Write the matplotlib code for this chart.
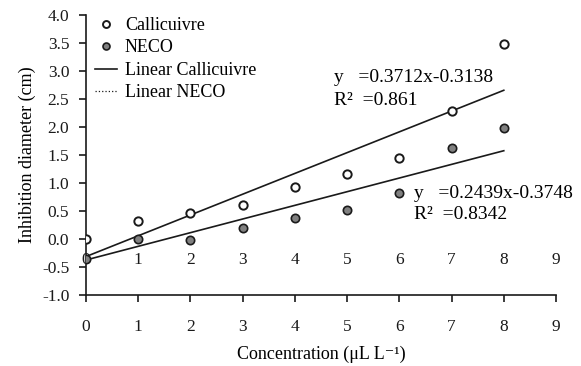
import matplotlib
matplotlib.use('Agg')
import matplotlib.pyplot as plt
from matplotlib.lines import Line2D

# Data
concentration = [0, 1, 2, 3, 4, 5, 6, 7, 8]
callicuivre = [0.0, 0.32, 0.46, 0.60, 0.92, 1.16, 1.45, 2.28, 3.48]
neco = [-0.35, 0.0, -0.01, 0.19, 0.37, 0.51, 0.82, 1.63, 1.99]

# Trendline coefficients as printed in the chart
calli_fit = (0.3712, -0.3138, 0.861)
neco_fit = (0.2439, -0.3748, 0.8342)

x_ticks = [0, 1, 2, 3, 4, 5, 6, 7, 8, 9]
y_ticks = [-1.0, -0.5, 0.0, 0.5, 1.0, 1.5, 2.0, 2.5, 3.0, 3.5, 4.0]

plt.rcParams['font.family'] = ['Liberation Serif', 'DejaVu Serif']
plt.rcParams['axes.unicode_minus'] = False

TICK_FS = 12.5
TEXT_FS = 13
EQ_FS = 14

fig = plt.figure(figsize=(5.81, 3.66), dpi=100)
ax = fig.add_axes([0.148, 0.194, 0.809, 0.765])

# trendlines (both drawn solid in the reference)
x_line = [concentration[0], concentration[-1]]
ax.plot(x_line, [calli_fit[0] * x + calli_fit[1] for x in x_line],
        color='#1a1a1a', lw=1.2, zorder=2)
ax.plot(x_line, [neco_fit[0] * x + neco_fit[1] for x in x_line],
        color='#1a1a1a', lw=1.2, zorder=2)

ax.plot(concentration, callicuivre, 'o', ms=6, mfc='white', mec='#1a1a1a',
        mew=1.4, zorder=3)
ax.plot(concentration, neco, 'o', ms=6, mfc='#808080', mec='#1a1a1a',
        mew=1.2, zorder=3)

ax.set_xlim(0, 9)
ax.set_ylim(-1.0, 4.0)
ax.set_xticks(x_ticks)
ax.set_yticks(y_ticks)
ax.set_yticklabels([f'{v:.1f}' for v in y_ticks])
ax.tick_params(axis='both', direction='out', length=5, width=1.2,
               colors='#1a1a1a', labelsize=TICK_FS)
ax.tick_params(axis='x', pad=12)
ax.tick_params(axis='y', pad=7)
for side in ['top', 'right']:
    ax.spines[side].set_visible(False)
for side in ['left', 'bottom']:
    ax.spines[side].set_linewidth(1.2)
    ax.spines[side].set_color('#1a1a1a')

# second row of category labels sitting just under the zero line
for x in x_ticks:
    ax.text(x, -0.38, str(x), ha='center', va='center', fontsize=TICK_FS,
            color='#1a1a1a', zorder=1)

ax.set_xlabel('Concentration (μL L\u207b\u00b9)', fontsize=TEXT_FS,
              labelpad=8)
ax.set_ylabel('Inhibition diameter (cm)', fontsize=TEXT_FS, labelpad=4)

ax.text(4.75, 2.88, f'y   ={calli_fit[0]}x{calli_fit[1]}', fontsize=EQ_FS,
        va='center')
ax.text(4.75, 2.47, f'R²  ={calli_fit[2]}', fontsize=EQ_FS, va='center')
ax.text(6.28, 0.82, f'y   ={neco_fit[0]}x{neco_fit[1]}', fontsize=EQ_FS,
        va='center')
ax.text(6.28, 0.44, f'R²  ={neco_fit[2]}', fontsize=EQ_FS, va='center')

handles = [
    Line2D([], [], ls='none', marker='o', ms=5, mfc='white', mec='#1a1a1a',
           mew=1.4),
    Line2D([], [], ls='none', marker='o', ms=5, mfc='#808080',
           mec='#1a1a1a', mew=1.2),
    Line2D([], [], color='#1a1a1a', lw=1.2),
    Line2D([], [], color='#1a1a1a', lw=0.9, ls=':'),
]
labels = ['Callicuivre', 'NECO', 'Linear Callicuivre', 'Linear NECO']
ax.legend(handles, labels, loc='upper left', bbox_to_anchor=(0.0, 1.025),
          frameon=False, handlelength=1.2, handletextpad=0.45,
          labelspacing=0.3, fontsize=TEXT_FS, borderaxespad=0.2,
          borderpad=0.3)

fig.savefig('out.png', dpi=100)
